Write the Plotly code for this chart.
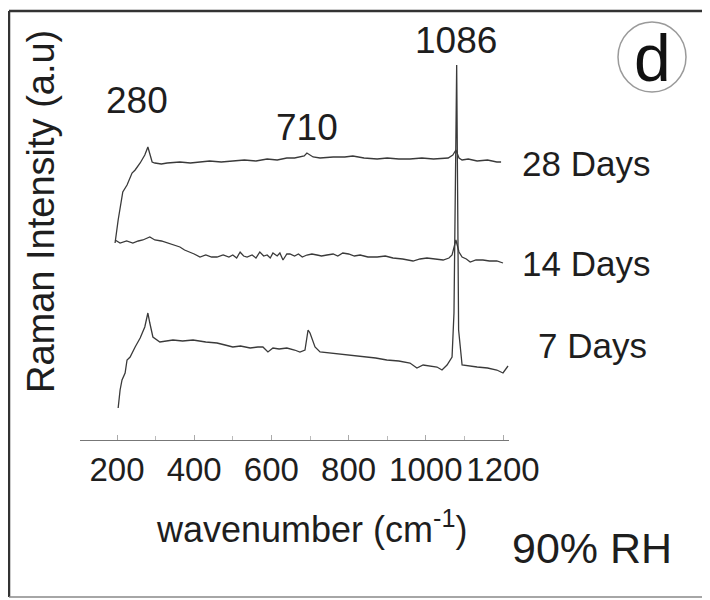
import plotly.graph_objects as go

# ---- data (wavenumber cm^-1, Raman intensity a.u. with vertical offsets) ----
days28_x = [195, 203, 215, 226, 239, 247, 260, 272, 280, 291, 298, 315, 330, 350, 363, 390, 415, 440, 470, 500,
            530, 560, 589, 615, 640, 660, 674, 685, 692, 700, 708, 726, 760, 790, 811, 840, 874, 900, 930, 959,
            990, 1020, 1045, 1058, 1070, 1078, 1086, 1094, 1110, 1133, 1160, 1184, 1195]
days28_y = [197, 220, 248, 255, 267, 270, 277, 285, 293, 278, 277, 276, 277, 278, 278, 277, 278, 279, 278, 279,
            280, 279, 281, 280, 282, 282, 283, 284, 287, 285, 283, 282, 283, 283, 284, 282, 281, 282, 281, 281,
            282, 281, 282, 282, 285, 290, 282, 280, 281, 279, 280, 278, 278]

days14_x = [195, 208, 225, 241, 255, 267, 285, 298, 315, 330, 345, 363, 375, 389, 400, 415, 430, 445, 459, 475,
            490, 500, 510, 519, 528, 537, 550, 560, 570, 580, 589, 597, 604, 615, 622, 630, 640, 648, 660, 670,
            680, 692, 705, 718, 730, 744, 760, 772, 785, 800, 815, 830, 850, 874, 895, 915, 940, 967, 985, 1003,
            1025, 1045, 1060, 1068, 1078, 1086, 1094, 1105, 1115, 1130, 1148, 1165, 1184, 1200]
days14_y = [200, 197, 199, 197, 199, 200, 203, 200, 199, 197, 195, 193, 190, 188, 186, 183, 185, 183, 183, 185,
            183, 185, 182, 188, 184, 183, 185, 182, 188, 184, 185, 182, 187, 184, 187, 180, 186, 186, 184, 186,
            183, 185, 186, 185, 184, 185, 186, 184, 187, 186, 184, 185, 183, 183, 184, 182, 181, 179, 181, 182,
            181, 180, 182, 185, 200, 188, 183, 181, 178, 180, 180, 179, 179, 177]

days7_x = [203, 208, 213, 221, 226, 234, 247, 260, 272, 280, 285, 293, 311, 330, 345, 370, 397, 430, 459, 480,
           500, 520, 545, 565, 578, 591, 604, 620, 640, 660, 674, 687, 695, 700, 713, 726, 750, 785, 810, 837,
           870, 899, 930, 959, 977, 993, 1010, 1029, 1042, 1055, 1068, 1073, 1080, 1085, 1094, 1110, 1133, 1160,
           1184, 1200, 1213]
days7_y = [32, 50, 60, 67, 80, 83, 93, 102, 113, 127, 117, 103, 98, 99, 100, 99, 100, 98, 97, 95,
           93, 94, 92, 93, 93, 88, 92, 91, 92, 90, 88, 90, 110, 107, 93, 88, 87, 85, 84, 83,
           82, 80, 79, 77, 72, 75, 74, 73, 70, 75, 83, 127, 375, 110, 75, 74, 73, 72, 70, 67, 74]

series_names = ["28 Days", "14 Days", "7 Days"]
tick_values = [200, 400, 600, 800, 1000, 1200]
tick_labels = ["200", "400", "600", "800", "1000", "1200"]
peak_labels = ["280", "710", "1086"]

# ---- layout helpers (screen pixel -> paper); page body has an 8px margin ----
OFF = 8
W, H = 710 - OFF, 600 - OFF
L = 80 - OFF            # plot left at screen x=80
T = 10 - OFF            # plot top at screen y=10
B = H - (440 - OFF)     # plot bottom (x axis) at screen y=440
SCALE = 0.386           # px per cm^-1
R = 201
PW, PH = W - L - R, H - T - B


def xp(px):
    return (px - OFF - L) / PW


def yp(py):
    return (H - B - (py - OFF)) / PH


FONT = "Liberation Sans, Arial, sans-serif"
LINE = "#3a3a3a"
TXT = "#1e1e1e"

fig = go.Figure()
for xs, ys, nm in [(days28_x, days28_y, series_names[0]),
                   (days14_x, days14_y, series_names[1]),
                   (days7_x, days7_y, series_names[2])]:
    fig.add_trace(go.Scatter(x=xs, y=ys, mode="lines", name=nm,
                             line=dict(color=LINE, width=1.3), showlegend=False,
                             hoverinfo="skip"))

ann = []
for txt, (cx, cy) in zip(peak_labels, [(137, 101), (307, 128), (456, 40)]):
    ann.append(dict(text=txt, x=xp(cx), y=yp(cy), xref="paper", yref="paper",
                    showarrow=False, font=dict(size=37, color=TXT, family=FONT),
                    xanchor="center", yanchor="middle"))
for txt, (cx, cy) in zip(series_names, [(520, 163), (520, 263), (536, 345)]):
    ann.append(dict(text=txt, x=xp(cx), y=yp(cy), xref="paper", yref="paper",
                    showarrow=False, font=dict(size=35, color=TXT, family=FONT),
                    xanchor="left", yanchor="middle"))
ann.append(dict(text="wavenumber (cm<sup>-1</sup>)", x=xp(312), y=yp(527), xref="paper", yref="paper",
                showarrow=False, font=dict(size=36, color=TXT, family=FONT),
                xanchor="center", yanchor="middle"))
ann.append(dict(text="Raman Intensity (a.u)", x=xp(41), y=yp(212), xref="paper", yref="paper",
                showarrow=False, textangle=-90, font=dict(size=38, color=TXT, family=FONT),
                xanchor="center", yanchor="middle"))
ann.append(dict(text="90% RH", x=xp(592), y=yp(548), xref="paper", yref="paper",
                showarrow=False, font=dict(size=43, color=TXT, family=FONT),
                xanchor="center", yanchor="middle"))
ann.append(dict(text="d", x=xp(652), y=yp(58), xref="paper", yref="paper",
                showarrow=False, font=dict(size=66, color="#111", family=FONT),
                xanchor="center", yanchor="middle"))

frame = dict(color="#333", width=2.5)
shapes = [
    dict(type="line", xref="paper", yref="paper", x0=xp(9), x1=xp(9), y0=yp(597), y1=yp(11), line=frame),
    dict(type="line", xref="paper", yref="paper", x0=xp(9), x1=xp(720), y0=yp(11), y1=yp(11), line=frame),
    dict(type="line", xref="paper", yref="paper", x0=xp(9), x1=xp(720), y0=yp(597), y1=yp(597),
         line=dict(color="#888", width=1.5)),
    dict(type="circle", xref="paper", yref="paper", x0=xp(618), x1=xp(686), y0=yp(92), y1=yp(22),
         line=dict(color="#9a9a9a", width=1.5)),
]

fig.update_layout(
    width=W, height=H,
    margin=dict(l=L, r=R, t=T, b=B, pad=0),
    paper_bgcolor="white", plot_bgcolor="white",
    annotations=ann, shapes=shapes, showlegend=False,
    xaxis=dict(range=[200 - (117 - 80) / SCALE, 200 - (117 - 80) / SCALE + PW / SCALE],
               tickvals=tick_values, ticktext=tick_labels, tickangle=0,
               showline=True, linecolor="#777", linewidth=1.3, showgrid=False, zeroline=False,
               ticks="inside", ticklen=5, tickcolor="#aaa",
               minor=dict(ticks="inside", ticklen=4, tickcolor="#bbb", dtick=100, tick0=100),
               tickfont=dict(size=33, color=TXT, family=FONT)),
    yaxis=dict(range=[0, PH], visible=False, showgrid=False, zeroline=False),
)

fig.write_html("out.html")
